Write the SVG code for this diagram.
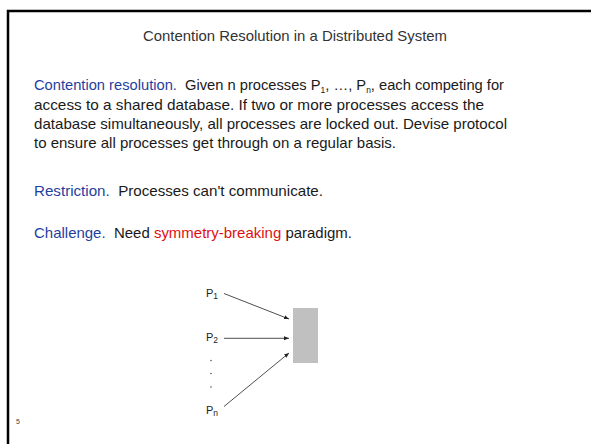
<svg xmlns="http://www.w3.org/2000/svg" width="591" height="444" viewBox="0 0 591 444">
<style>
.t{font-family:"Liberation Sans",Arial,sans-serif;font-size:15px;fill:#1a1a1a}
.b{fill:#1f3f9f}
.r{fill:#e01010}
.lbl{font-family:"Liberation Sans",Arial,sans-serif;font-size:11px;fill:#222}
.sub{font-size:8.5px}
.c{stroke:#222;stroke-width:0.8;fill:none;marker-end:url(#ah)}
</style>
<defs>
<marker id="ah" viewBox="0 0 10 10" refX="10" refY="5" markerWidth="5" markerHeight="5" orient="auto" markerUnits="userSpaceOnUse">
<path d="M0,1 L10,5 L0,9 z" fill="#222"/>
</marker>
</defs>
<rect width="591" height="444" fill="#fff"/>
<path d="M8,444 V11 H591" fill="none" stroke="#000" stroke-width="2.5"/>
<text x="295" y="41" text-anchor="middle" class="t" style="fill:#333" textLength="304" lengthAdjust="spacingAndGlyphs">Contention Resolution in a Distributed System</text>
<g id="body">
<text x="34" y="90" class="t" xml:space="preserve" style="font-size:14.7px"><tspan class="b">Contention resolution.</tspan>  Given n processes P<tspan class="sub" dy="3">1</tspan><tspan dy="-3">, …, P</tspan><tspan class="sub" dy="3">n</tspan><tspan dy="-3">, each competing for</tspan></text>
<text x="34" y="110" class="t" textLength="450" lengthAdjust="spacingAndGlyphs">access to a shared database. If two or more processes access the</text>
<text x="34" y="129" class="t" textLength="473" lengthAdjust="spacingAndGlyphs">database simultaneously, all processes are locked out. Devise protocol</text>
<text x="34" y="148" class="t" textLength="362" lengthAdjust="spacingAndGlyphs">to ensure all processes get through on a regular basis.</text>
<text x="34" y="196" class="t" xml:space="preserve" textLength="289" lengthAdjust="spacingAndGlyphs"><tspan class="b">Restriction.</tspan>  Processes can't communicate.</text>
<text x="34" y="238" class="t" xml:space="preserve" textLength="318" lengthAdjust="spacingAndGlyphs"><tspan class="b">Challenge.</tspan>  Need <tspan class="r">symmetry-breaking</tspan> paradigm.</text>
</g>
<g id="p1"><text x="206" y="297" class="lbl">P<tspan class="sub" dy="2">1</tspan></text></g>
<g id="p2"><text x="206" y="341" class="lbl">P<tspan class="sub" dy="2">2</tspan></text></g>
<g id="dots"><circle cx="211" cy="360.5" r="0.7" fill="#333"/><circle cx="211" cy="373.5" r="0.7" fill="#333"/><circle cx="211" cy="387" r="0.7" fill="#333"/></g>
<g id="pn"><text x="206" y="414" class="lbl">P<tspan class="sub" dy="2">n</tspan></text></g>
<g id="db"><rect x="293" y="308" width="25" height="55" fill="#c0c0c0"/></g>
<g id="connectors">
<line x1="224" y1="293.5" x2="289" y2="319" class="c"/>
<line x1="224" y1="338.3" x2="289" y2="338.3" class="c"/>
<line x1="224" y1="406.5" x2="289" y2="353" class="c"/>
</g>
<text x="16" y="424" style="font-family:'Liberation Sans',Arial,sans-serif;font-size:7px;fill:#444">5</text>
</svg>
